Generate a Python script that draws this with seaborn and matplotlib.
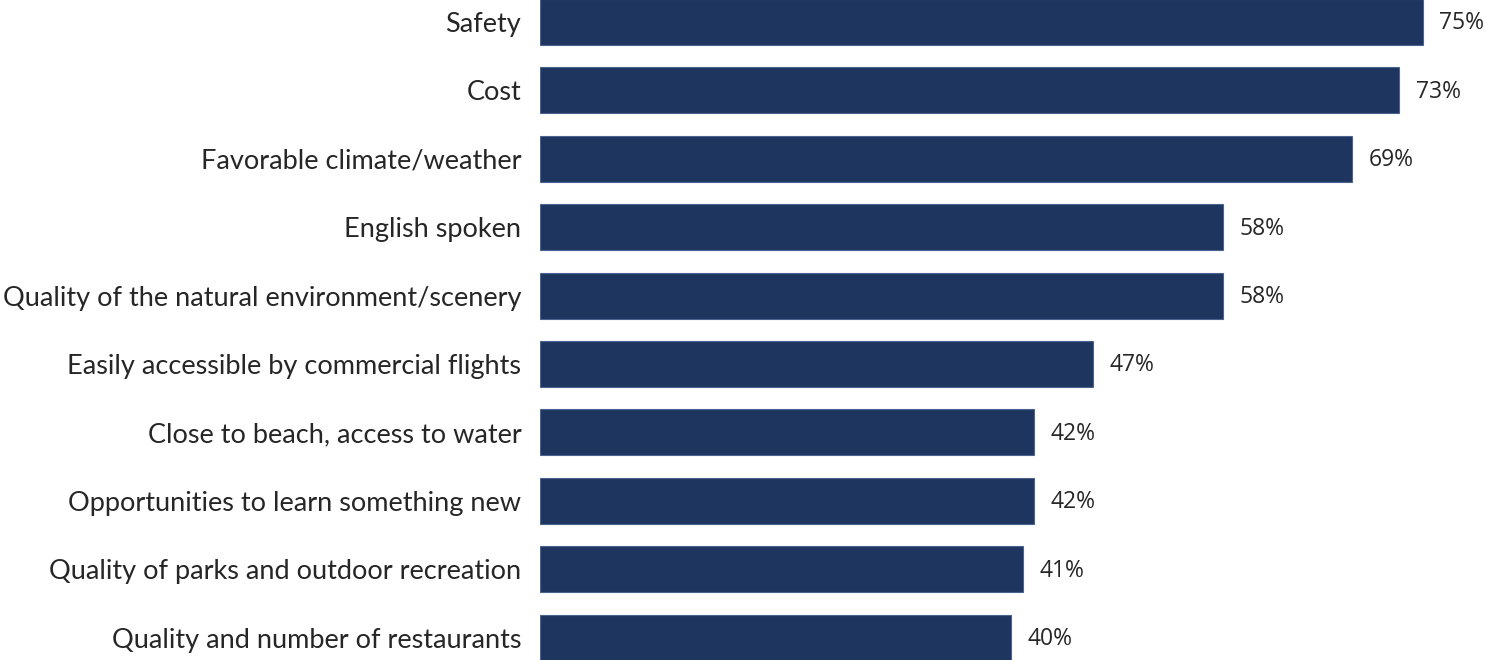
import matplotlib
matplotlib.use("Agg")
import matplotlib.pyplot as plt
import seaborn as sns
import pandas as pd

categories = [
    "Safety",
    "Cost",
    "Favorable climate/weather",
    "English spoken",
    "Quality of the natural environment/scenery",
    "Easily accessible by commercial flights",
    "Close to beach, access to water",
    "Opportunities to learn something new",
    "Quality of parks and outdoor recreation",
    "Quality and number of restaurants",
]
values = [75, 73, 69, 58, 58, 47, 42, 42, 41, 40]

df = pd.DataFrame({"category": categories, "value": values})

sns.set_theme(style="white")
plt.rcParams["font.family"] = ["Lato", "DejaVu Sans"]

W, H = 1485, 660
fig = plt.figure(figsize=(W / 100, H / 100), dpi=100)
left_px = 540
ax = fig.add_axes([left_px / W, 0, 1 - left_px / W, 1])

bar_color = "#1E3560"
sns.barplot(data=df, x="value", y="category", orient="h", color=bar_color,
            width=0.673, edgecolor="#4a6390", linewidth=0.8, saturation=1, ax=ax)

pitch = 68.4
first_center = 22
ax.set_ylim((H - first_center) / pitch, -first_center / pitch)
ax.set_xlim(0, (W - left_px) / 11.77)

for i, v in enumerate(values):
    ax.text(v + 1.4, i + 0.02, f"{v}%", va="center", ha="left", fontsize=16.5,
            color="#262626", family=["Open Sans", "DejaVu Sans"])

ax.set_xlabel("")
ax.set_ylabel("")
ax.set_xticks([])
ax.tick_params(axis="y", length=0, pad=13.5, labelsize=19.5, labelcolor="#262626")
for s in ax.spines.values():
    s.set_visible(False)

fig.savefig("out.png", dpi=100)
